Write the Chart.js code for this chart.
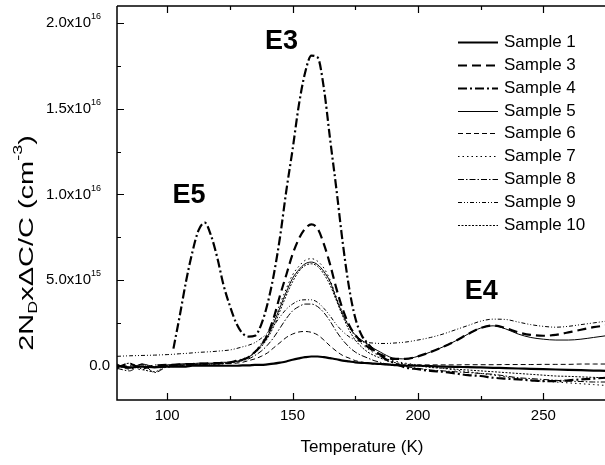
<!DOCTYPE html>
<html>
<head>
<meta charset="utf-8">
<script src="https://cdn.jsdelivr.net/npm/chart.js@4.4.1/dist/chart.umd.min.js"></script>
<style>
  html, body { margin: 0; padding: 0; background: #fff; overflow: hidden; }
  #wrap { width: 606px; height: 465px; }
</style>
</head>
<body>
<div id="wrap"><canvas id="myChart" width="606" height="465"></canvas></div>
<script>
// Temperatures (K) at which the curves were read
const temps = [80, 85, 90, 95, 100, 102.5, 105, 107.5, 110, 112.5, 115, 117.5, 120, 122.5, 125, 127.5,
  130, 132.5, 135, 137.5, 140, 142.5, 145, 147.5, 150, 152.5, 155, 157.5, 160, 162.5, 165, 167.5,
  170, 172.5, 175, 177.5, 180, 182.5, 185, 187.5, 190, 195, 200, 205, 210, 215, 220, 225, 230,
  235, 240, 245, 250, 255, 260, 265, 270, 275];

// 2N_D x dC/C values, in units of 1e15 cm^-3
const sample1 = [0.0, -0.1, -0.05, -0.1, -0.05, -0.05, -0.05, -0.05, 0.0, 0.0, 0.0, 0.0, 0.0, 0.0, 0.0, 0.0,
  0.02, 0.02, 0.05, 0.05, 0.08, 0.12, 0.18, 0.25, 0.35, 0.43, 0.5, 0.54, 0.54, 0.5, 0.44, 0.38,
  0.3, 0.25, 0.2, 0.17, 0.15, 0.12, 0.1, 0.08, 0.05, 0.0, 0.0, -0.02, -0.05, -0.07, -0.08, -0.1, -0.12,
  -0.14, -0.16, -0.18, -0.2, -0.22, -0.24, -0.26, -0.28, -0.3];
const sample3 = [-0.1, 0.1, -0.15, 0.0, 0.05, 0.05, 0.08, 0.1, 0.1, 0.12, 0.12, 0.15, 0.15, 0.17, 0.2, 0.28,
  0.35, 0.5, 0.8, 1.2, 1.8, 2.8, 4.1, 5.3, 6.5, 7.4, 8.0, 8.25, 8.0, 7.1, 5.9, 4.5,
  3.3, 2.4, 1.8, 1.4, 1.1, 0.85, 0.65, 0.5, 0.4, 0.4, 0.55, 0.8, 1.1, 1.45, 1.85, 2.2, 2.35,
  2.2, 1.95, 1.8, 1.75, 1.8, 1.95, 2.1, 2.25, 2.35];
const sample4 = [null, null, null, null, null, 1.0, 2.9, 4.9, 6.6, 7.9, 8.35, 7.6, 6.3, 4.7, 3.5, 2.5,
  1.9, 1.7, 1.75, 2.4, 3.6, 5.3, 7.5, 10.2, 12.6, 15.2, 17.1, 18.1, 18.0, 16.2, 13.2, 10.3,
  7.2, 4.6, 2.8, 1.8, 1.3, 0.9, 0.6, 0.35, 0.2, -0.1, -0.2, -0.3, -0.35, -0.45, -0.55, -0.6, -0.7,
  -0.75, -0.8, -0.85, -0.9, -0.9, -0.85, -0.8, -0.75, -0.7];
const sample5 = [0.05, -0.15, 0.1, -0.05, 0.05, 0.08, 0.1, 0.12, 0.12, 0.15, 0.15, 0.15, 0.18, 0.2, 0.2, 0.25,
  0.35, 0.5, 0.8, 1.2, 1.7, 2.5, 3.4, 4.3, 5.1, 5.6, 5.95, 6.05, 5.9, 5.5, 4.9, 3.9,
  3.0, 2.3, 1.8, 1.5, 1.25, 1.0, 0.8, 0.6, 0.45, 0.4, 0.55, 0.8, 1.1, 1.45, 1.85, 2.2, 2.33,
  2.15, 1.85, 1.65, 1.55, 1.5, 1.5, 1.55, 1.65, 1.75];
const sample6 = [0.1, -0.2, 0.05, -0.1, 0.0, 0.02, 0.05, 0.05, 0.08, 0.08, 0.1, 0.1, 0.1, 0.12, 0.12, 0.15,
  0.2, 0.3, 0.4, 0.55, 0.75, 1.05, 1.35, 1.65, 1.85, 1.97, 2.0, 1.95, 1.8, 1.5, 1.15, 0.85,
  0.6, 0.45, 0.3, 0.22, 0.15, 0.1, 0.08, 0.06, 0.05, 0.05, 0.05, 0.05, 0.05, 0.05, 0.06, 0.06, 0.06,
  0.07, 0.07, 0.07, 0.08, 0.08, 0.08, 0.1, 0.1, 0.1];
const sample7 = [-0.2, 0.0, -0.25, 0.05, -0.1, -0.05, 0.0, 0.02, 0.05, 0.05, 0.08, 0.08, 0.1, 0.12, 0.15, 0.3,
  0.4, 0.55, 0.85, 1.3, 1.9, 2.7, 3.6, 4.5, 5.3, 5.8, 6.15, 6.25, 6.1, 5.7, 5.0, 4.0,
  3.1, 2.3, 1.7, 1.3, 1.0, 0.75, 0.55, 0.4, 0.3, 0.15, 0.05, -0.05, -0.15, -0.25, -0.35, -0.45, -0.55,
  -0.65, -0.75, -0.85, -0.9, -0.95, -1.0, -1.05, -1.1, -1.15];
const sample8 = [-0.15, -0.3, 0.1, -0.4, -0.05, 0.0, 0.02, 0.05, 0.05, 0.08, 0.08, 0.1, 0.1, 0.12, 0.15, 0.2,
  0.3, 0.4, 0.6, 0.85, 1.2, 1.65, 2.2, 2.75, 3.2, 3.45, 3.6, 3.6, 3.45, 3.1, 2.6, 2.0,
  1.5, 1.1, 0.8, 0.6, 0.45, 0.3, 0.2, 0.1, 0.05, -0.05, -0.15, -0.25, -0.3, -0.35, -0.4, -0.45, -0.5,
  -0.6, -0.7, -0.75, -0.8, -0.85, -0.9, -0.92, -0.95, -0.95];
const sample9 = [0.55, 0.58, 0.6, 0.62, 0.65, 0.67, 0.7, 0.72, 0.75, 0.78, 0.8, 0.82, 0.85, 0.88, 0.92, 1.0,
  1.1, 1.2, 1.35, 1.6, 1.9, 2.35, 2.85, 3.3, 3.6, 3.8, 3.85, 3.85, 3.7, 3.35, 2.9, 2.4,
  2.0, 1.7, 1.5, 1.4, 1.35, 1.32, 1.3, 1.3, 1.32, 1.38, 1.5, 1.65, 1.85, 2.1, 2.35, 2.6, 2.72,
  2.7, 2.55, 2.4, 2.3, 2.25, 2.3, 2.4, 2.5, 2.6];
const sample10 = [-0.1, 0.15, -0.2, -0.35, 0.0, 0.02, 0.05, 0.05, 0.08, 0.1, 0.1, 0.12, 0.12, 0.15, 0.18, 0.25,
  0.35, 0.5, 0.75, 1.1, 1.6, 2.3, 3.2, 4.1, 4.9, 5.5, 5.85, 5.95, 5.8, 5.35, 4.7, 3.8,
  2.9, 2.1, 1.5, 1.1, 0.8, 0.6, 0.45, 0.3, 0.2, 0.1, 0.0, -0.1, -0.15, -0.2, -0.25, -0.3, -0.35,
  -0.4, -0.45, -0.5, -0.55, -0.6, -0.62, -0.65, -0.68, -0.7];

const sampleNames = ['Sample 1', 'Sample 3', 'Sample 4', 'Sample 5', 'Sample 6', 'Sample 7', 'Sample 8', 'Sample 9', 'Sample 10'];
const sampleValues = [sample1, sample3, sample4, sample5, sample6, sample7, sample8, sample9, sample10];

// line styles, same order as the samples
const lineWidths = [2.2, 2.2, 2.2, 1, 1, 1, 1, 1, 1];
const lineDashes = [[], [9, 5], [9, 3, 2, 3], [], [5, 3], [1.5, 3], [6, 2, 1.5, 2], [4, 2, 1, 2, 1, 2], [2, 1.5]];

// axis ticks (y in units of 1e15)
const xTickValues = [100, 150, 200, 250];
const xMinorTicks = [125, 175, 225, 275];
const yTickValues = [0, 5, 10, 15, 20];
const yMinorTicks = [2.5, 7.5, 12.5, 17.5];
const yTickLabels = [['0.0', ''], ['5.0x10', '15'], ['1.0x10', '16'], ['1.5x10', '16'], ['2.0x10', '16']];

// peak labels
const peakNames = ['E5', 'E3', 'E4'];
const peakSpots = [[108.7, 9.95], [145.6, 18.9], [225.3, 4.36]];

const FONT = '"Liberation Sans", Arial, sans-serif';

function richText(ctx, parts, x, y, size, align, rotate, stretch) {
    ctx.save();
    ctx.translate(x, y);
    if (rotate) ctx.rotate(-Math.PI / 2);
    if (stretch) ctx.scale(stretch, 1);
    const fontFor = k => (k ? Math.round(size * 0.62) : size) + 'px ' + FONT;
    let w = 0;
    parts.forEach(p => { ctx.font = fontFor(p[1]); w += ctx.measureText(p[0]).width; });
    let cx = align === 'right' ? -w : (align === 'center' ? -w / 2 : 0);
    ctx.textBaseline = 'middle';
    ctx.textAlign = 'left';
    ctx.fillStyle = '#000';
    parts.forEach(p => {
        ctx.font = fontFor(p[1]);
        const dy = p[1] === 1 ? -size * 0.42 : (p[1] === -1 ? size * 0.3 : 0);
        ctx.fillText(p[0], cx, dy);
        cx += ctx.measureText(p[0]).width;
    });
    ctx.restore();
}

const decorations = {
    id: 'decorations',
    afterDraw(chart) {
        const ctx = chart.ctx;
        const area = chart.chartArea;
        const xs = chart.scales.x, ys = chart.scales.y;
        ctx.save();
        ctx.strokeStyle = '#000';
        ctx.lineWidth = 1.5;
        // frame: left, bottom, top
        ctx.beginPath();
        ctx.moveTo(area.left, area.top);
        ctx.lineTo(area.left, area.bottom);
        ctx.lineTo(area.right + 2, area.bottom);
        ctx.moveTo(area.left, area.top);
        ctx.lineTo(area.right + 2, area.top);
        ctx.stroke();

        // inward ticks
        ctx.lineWidth = 1.2;
        ctx.beginPath();
        xTickValues.concat(xMinorTicks).forEach((v, i) => {
            const len = i < xTickValues.length ? 7 : 4;
            const px = Math.round(xs.getPixelForValue(v)) + 0.5;
            ctx.moveTo(px, area.bottom); ctx.lineTo(px, area.bottom - len);
            ctx.moveTo(px, area.top); ctx.lineTo(px, area.top + len);
        });
        yTickValues.concat(yMinorTicks).forEach((v, i) => {
            const len = i < yTickValues.length ? 7 : 4;
            const py = Math.round(ys.getPixelForValue(v)) + 0.5;
            ctx.moveTo(area.left, py); ctx.lineTo(area.left + len, py);
        });
        ctx.stroke();

        // tick labels
        xTickValues.forEach(v => {
            richText(ctx, [[String(v), 0]], xs.getPixelForValue(v), area.bottom + 16, 15, 'center');
        });
        yTickValues.forEach((v, i) => {
            const lab = yTickLabels[i];
            const parts = lab[1] ? [[lab[0], 0], [lab[1], 1]] : [[lab[0], 0]];
            richText(ctx, parts, lab[1] ? area.left - 16 : area.left - 7, ys.getPixelForValue(v), 15, 'right');
        });

        // axis titles
        richText(ctx, [['Temperature (K)', 0]], 362, 447, 17, 'center');
        richText(ctx, [['2N', 0], ['D', -1], ['x\u0394C/C (cm', 0], ['-3', 1], [')', 0]], 27, 243, 21, 'center', true, 1.38);

        // peak labels
        peakNames.forEach((name, i) => {
            ctx.font = 'bold 27px ' + FONT;
            ctx.fillStyle = '#000';
            ctx.textAlign = 'center';
            ctx.textBaseline = 'middle';
            ctx.fillText(name, xs.getPixelForValue(peakSpots[i][0]), ys.getPixelForValue(peakSpots[i][1]));
        });

        // legend
        sampleNames.forEach((name, i) => {
            const y = Math.round(42 + i * 22.85) + 0.5;
            ctx.lineWidth = lineWidths[i];
            ctx.setLineDash(lineDashes[i]);
            ctx.beginPath();
            ctx.moveTo(458, y);
            ctx.lineTo(498, y);
            ctx.stroke();
            ctx.setLineDash([]);
            richText(ctx, [[name, 0]], 504, y, 17, 'left');
        });
        ctx.restore();
    }
};

const ctx = document.getElementById('myChart').getContext('2d');
const myChart = new Chart(ctx, {
    type: 'line',
    data: {
        datasets: sampleNames.map((name, i) => ({
            label: name,
            data: temps.map((t, j) => ({ x: t, y: sampleValues[i][j] })).filter(p => p.y !== null),
            borderColor: '#000',
            borderWidth: lineWidths[i],
            borderDash: lineDashes[i],
            pointRadius: 0,
            cubicInterpolationMode: 'monotone',
            fill: false
        }))
    },
    options: {
        responsive: false,
        animation: false,
        layout: { padding: { left: 0, right: 0, top: 6, bottom: 0 } },
        plugins: { legend: { display: false }, tooltip: { enabled: false } },
        scales: {
            x: {
                type: 'linear', min: 80, max: 275,
                ticks: { display: false }, grid: { display: false }, border: { display: false },
                afterFit: s => { s.height = 65; }
            },
            y: {
                min: -2, max: 21,
                ticks: { display: false }, grid: { display: false }, border: { display: false },
                afterFit: s => { s.width = 117; }
            }
        }
    },
    plugins: [decorations]
});
</script>
</body>
</html>
